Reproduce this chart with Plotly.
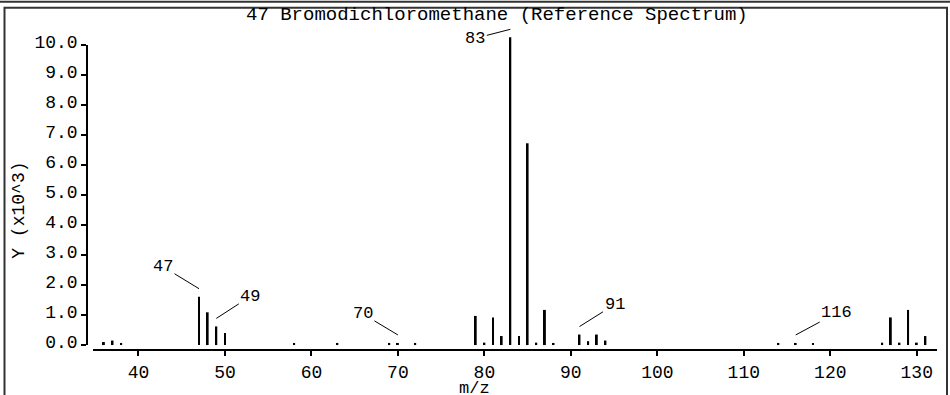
import plotly.graph_objects as go

# ---- data ----
mz = [36, 37, 38, 47, 48, 49, 50, 58, 63, 69, 70, 72,
      79, 80, 81, 82, 83, 84, 85, 86, 87, 88,
      91, 92, 93, 94, 114, 116, 118,
      126, 127, 128, 129, 130, 131]
intensity = [0.10, 0.15, 0.07, 1.61, 1.09, 0.62, 0.40, 0.07, 0.07, 0.07, 0.07, 0.07,
             0.97, 0.08, 0.92, 0.30, 10.25, 0.30, 6.72, 0.08, 1.17, 0.07,
             0.35, 0.13, 0.35, 0.15, 0.07, 0.07, 0.07,
             0.08, 0.92, 0.08, 1.17, 0.08, 0.30]
label_peaks = [47, 49, 70, 83, 91, 116]
x_ticks = [40, 50, 60, 70, 80, 90, 100, 110, 120, 130]
y_ticks = [0, 1, 2, 3, 4, 5, 6, 7, 8, 9, 10]
title_text = "47 Bromodichloromethane (Reference Spectrum)"
x_title = "m/z"
y_title = "Y (x10^3)"

# ---- style / layout helpers ----
W, H = 950, 395
L, R = 87, 937
T, B = 30, 353
FONT = "Liberation Mono"


def px_x(p):
    return (p - L) / (R - L)


def px_y(p):
    return (B - p) / (B - T)


label_offsets = {47: (-36, -22), 49: (34, -22), 70: (-35, -21),
                 83: (-35, 9), 91: (35, -22), 116: (41, -22)}

fig = go.Figure()
fig.add_trace(go.Bar(x=mz, y=intensity, width=0.22,
                     marker=dict(color="black", line=dict(width=0)),
                     showlegend=False, hoverinfo="x+y"))
fig.add_trace(go.Scatter(x=[None], y=[None], yaxis="y2", showlegend=False,
                         hoverinfo="skip"))

annotations = []
for m in label_peaks:
    ax, ay = label_offsets[m]
    annotations.append(dict(
        x=m, y=intensity[mz.index(m)], xref="x", yref="y", text=str(m),
        showarrow=True, arrowhead=0, arrowwidth=1, arrowcolor="black",
        ax=ax, ay=ay, standoff=0, yshift=8,
        font=dict(family=FONT, size=17, color="black")))

annotations += [
    dict(x=px_x(497), y=px_y(15), xref="paper", yref="paper", text=title_text,
         showarrow=False, font=dict(family=FONT, size=19, color="black"),
         xanchor="center", yanchor="middle"),
    dict(x=px_x(19), y=px_y(213), xref="paper", yref="paper", text=y_title,
         textangle=-90, showarrow=False,
         font=dict(family=FONT, size=18, color="black"),
         xanchor="center", yanchor="middle"),
    dict(x=px_x(474), y=px_y(393), xref="paper", yref="paper", text=x_title,
         showarrow=False, font=dict(family=FONT, size=17, color="black"),
         xanchor="center", yanchor="middle"),
    dict(x=px_x(474), y=px_y(-5), xref="paper", yref="paper", text=x_title,
         showarrow=False, font=dict(family=FONT, size=17, color="black"),
         xanchor="center", yanchor="middle"),
]

shapes = [
    dict(type="line", xref="paper", yref="paper",
         x0=px_x(0), x1=px_x(950), y0=px_y(1.5), y1=px_y(1.5),
         line=dict(color="#333333", width=2)),
    dict(type="rect", xref="paper", yref="paper",
         x0=px_x(4.5), x1=px_x(947), y0=px_y(420), y1=px_y(7.5),
         line=dict(color="#333333", width=2), fillcolor="rgba(0,0,0,0)"),
]

px_per_unit = 30.4
zero_px = 349

fig.update_layout(
    width=W, height=H, autosize=False,
    margin=dict(l=L, r=W - R, t=T, b=H - B, pad=0),
    paper_bgcolor="white", plot_bgcolor="rgba(0,0,0,0)",
    font=dict(family=FONT, size=18, color="black"),
    showlegend=False,
    xaxis=dict(domain=[px_x(93), 1], range=[34.74, 132.34], anchor="y",
               showline=True, linecolor="black", linewidth=2,
               ticks="outside", ticklen=5, tickwidth=1.5, tickcolor="black",
               tickvals=x_ticks, showgrid=False, zeroline=False,
               tickfont=dict(family=FONT, size=18, color="black")),
    yaxis=dict(domain=[0, 1],
               range=[-(B - zero_px) / px_per_unit, (zero_px - T) / px_per_unit],
               visible=False, showgrid=False, zeroline=False),
    yaxis2=dict(domain=[px_y(zero_px), px_y(zero_px - 10 * px_per_unit)],
                range=[0, 10], anchor="free", position=0,
                showline=True, linecolor="black", linewidth=1.5,
                ticks="outside", ticklen=5, tickwidth=1.5, tickcolor="black",
                tickvals=y_ticks, tickformat=".1f", ticklabelshift=-3,
                showgrid=False, zeroline=False,
                tickfont=dict(family=FONT, size=18, color="black")),
    annotations=annotations,
    shapes=shapes,
)

fig.write_html("out.html",
               config={"displayModeBar": False},
               post_script="document.body.style.margin='0px';"
                           "document.body.style.overflow='hidden';")
